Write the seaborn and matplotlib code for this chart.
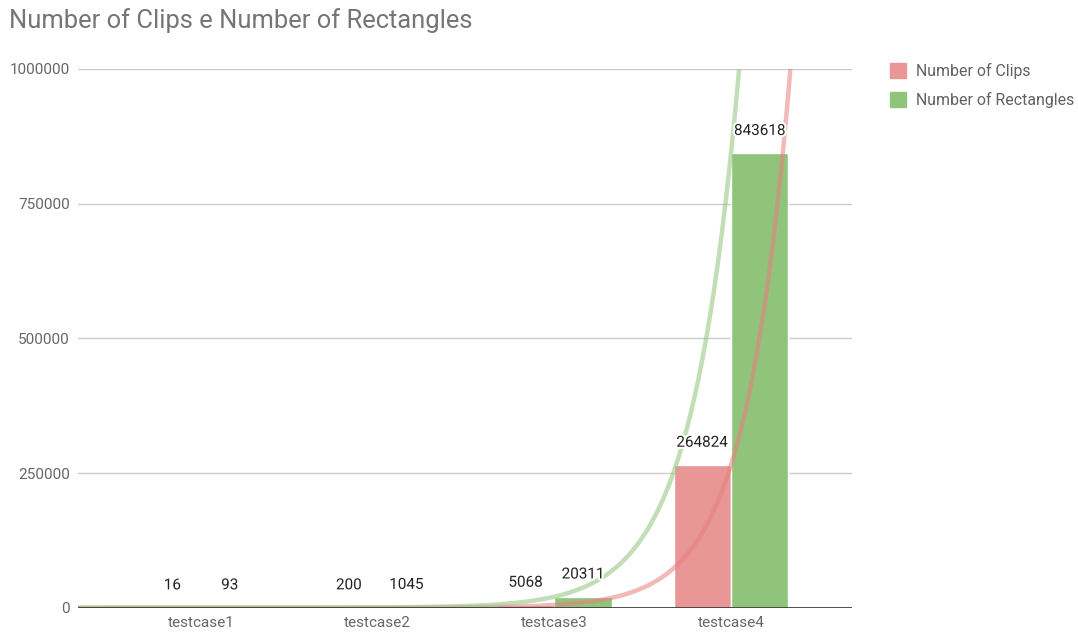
import numpy as np
import pandas as pd
import matplotlib
matplotlib.use("Agg")
import matplotlib.pyplot as plt
import matplotlib.patheffects as pe
from matplotlib.patches import Patch
import seaborn as sns

categories = ["testcase1", "testcase2", "testcase3", "testcase4"]
clips = [16, 200, 5068, 264824]
rectangles = [93, 1045, 20311, 843618]
series_names = ["Number of Clips", "Number of Rectangles"]
bar_colors = ["#e99696", "#90c47b"]
line_colors = ["#e88080", "#8fc47b"]
yticks = [0, 250000, 500000, 750000, 1000000]

df = pd.DataFrame({
    "category": categories * 2,
    "value": clips + rectangles,
    "series": [series_names[0]] * 4 + [series_names[1]] * 4,
})

sns.set_theme(style="white")
plt.rcParams["font.family"] = ["Roboto", "DejaVu Sans"]

fig = plt.figure(figsize=(10.78, 6.37), dpi=100)
ax = fig.add_axes([0.0724, 0.0460, 0.7180, 0.8457])

sns.barplot(data=df, x="category", y="value", hue="series", palette=bar_colors,
            width=0.65, ax=ax, legend=False, edgecolor="white", linewidth=1.0,
            saturation=1)

# exponential trendlines (least squares, weighted log fit)
xs = np.arange(len(categories))
xfine = np.linspace(-0.7, 3.7, 400)
for vals, col in zip([clips, rectangles], line_colors):
    v = np.array(vals, dtype=float)
    b, a = np.polyfit(xs, np.log(v), 1, w=v)
    ax.plot(xfine, np.exp(a + b * xfine), color=col, alpha=0.55, lw=3.2,
            solid_capstyle="butt", zorder=3)

for cont in ax.containers:
    labels = ax.bar_label(cont, fmt="%d", padding=11, fontsize=11, color="#222222")
    for t in labels:
        t.set_path_effects([pe.withStroke(linewidth=3, foreground="white")])
        t.set_zorder(5)

ax.set_xlim(-0.696, 3.685)
ax.set_ylim(0, 1000000)
ax.set_yticks(yticks)
ax.set_yticklabels([str(v) for v in yticks])
ax.grid(axis="y", color="#cccccc", linewidth=1)
ax.set_axisbelow(True)
ax.axhline(0, color="#333333", lw=1.2, zorder=4)
for s in ["top", "right", "left", "bottom"]:
    ax.spines[s].set_visible(False)
ax.tick_params(axis="both", length=0, labelsize=11, labelcolor="#666666")
ax.tick_params(axis="y", pad=6)
ax.tick_params(axis="x", pad=6)
ax.set_xlabel("")
ax.set_ylabel("")

fig.text(0.008, 0.967, "Number of Clips e Number of Rectangles", fontsize=18.4,
         color="#757575", va="center", ha="left")

handles = [Patch(facecolor=c, edgecolor=c) for c in bar_colors]
fig.legend(handles, series_names, loc="upper left", bbox_to_anchor=(0.812, 0.924),
           frameon=False, fontsize=11.4, labelcolor="#616161", handlelength=1.05,
           handleheight=1.05, handletextpad=0.6, labelspacing=0.85)

fig.savefig("out.png", dpi=100, facecolor="white")
